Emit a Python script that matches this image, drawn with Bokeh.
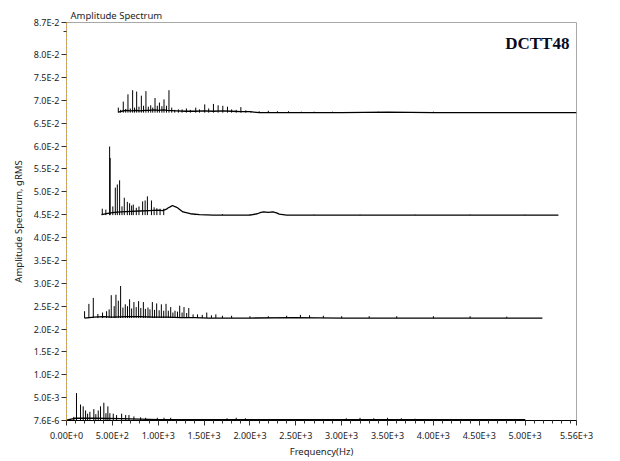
from bokeh.plotting import figure
from bokeh.models import FixedTicker, Range1d, Label, ColumnDataSource, BoxAnnotation
from bokeh.embed import file_html
from bokeh.resources import INLINE

# ---------------- data ----------------
# Series 1 (top trace)
s1_base_f = [565, 600, 650, 700, 760, 800, 860, 900, 960, 1000, 1060, 1100, 1200, 1300, 1400, 1500, 1600, 1700,
             1800, 1900, 2000, 2100, 2400, 3000, 3500, 4000, 4500, 5000, 5560]
s1_base_a = [0.0674, 0.0676, 0.0678, 0.0677, 0.0678, 0.0677, 0.0678, 0.0678, 0.0679, 0.0678, 0.0679, 0.0678,
             0.0677, 0.0676, 0.0676, 0.0677, 0.0676, 0.0677, 0.0676, 0.0675, 0.0675, 0.0673, 0.0673, 0.0673,
             0.0674, 0.0673, 0.0673, 0.0673, 0.0673]
s1_peak_f = [565, 590, 619, 645, 670, 695, 721, 742, 765, 790, 816, 840, 866, 892, 918, 940, 965, 990, 1013,
             1040, 1063, 1090, 1117, 1147, 1180, 1220, 1260, 1307, 1350, 1409, 1450, 1507, 1550, 1602, 1653,
             1704, 1755, 1800, 1850, 1901, 1955, 2010, 2100, 2200, 2300, 2420, 2560, 2700, 2900, 3100, 3400,
             3700, 4000, 4300, 4600, 4900, 5200]
s1_peak_a = [0.0684, 0.0679, 0.0697, 0.0681, 0.0713, 0.0682, 0.0722, 0.0684, 0.0719, 0.0686, 0.0710, 0.0688,
             0.0720, 0.0686, 0.0689, 0.0684, 0.0705, 0.0688, 0.0695, 0.0687, 0.0702, 0.0688, 0.0722, 0.0684,
             0.0679, 0.0680, 0.0680, 0.0682, 0.0679, 0.0684, 0.0680, 0.0691, 0.0682, 0.0692, 0.0689, 0.0688,
             0.0686, 0.0680, 0.0679, 0.0685, 0.0678, 0.0676, 0.0676, 0.0677, 0.0676, 0.0676, 0.0675, 0.0675,
             0.0675, 0.0674, 0.0675, 0.0674, 0.0675, 0.0674, 0.0674, 0.0674, 0.0674]

# Series 2
s2_base_f = [382, 450, 520, 600, 700, 800, 900, 1000, 1050, 1090, 1110, 1130, 1155, 1175, 1190, 1210, 1230,
             1270, 1350, 1450, 1600, 1800, 2000, 2080, 2120, 2150, 2200, 2250, 2290, 2320, 2400, 3000, 3500,
             4000, 4500, 5000, 5363]
s2_base_a = [0.0450, 0.0453, 0.0455, 0.0456, 0.0457, 0.0458, 0.0459, 0.0460, 0.0459, 0.0462, 0.0465, 0.0467,
             0.0470, 0.0468, 0.0467, 0.0465, 0.0462, 0.0456, 0.0452, 0.0450, 0.0449, 0.0449, 0.0449, 0.0452,
             0.0455, 0.0456, 0.0455, 0.0456, 0.0454, 0.0451, 0.0449, 0.0449, 0.0449, 0.0449, 0.0449, 0.0449,
             0.0449]
s2_peak_f = [390, 429, 470, 476, 505, 532, 554, 579, 605, 630, 663, 688, 710, 728, 761, 790, 830, 857, 882, 926,
             955, 985, 1020, 1060, 1400, 1700, 2000, 2700, 3200, 3800, 4400, 5000]
s2_peak_a = [0.0463, 0.0461, 0.0599, 0.0574, 0.0468, 0.0509, 0.0516, 0.0525, 0.0468, 0.0487, 0.0478, 0.0475,
             0.0470, 0.0472, 0.0465, 0.0468, 0.0479, 0.0481, 0.0490, 0.0481, 0.0466, 0.0464, 0.0463, 0.0463,
             0.0451, 0.0451, 0.0451, 0.0450, 0.0450, 0.0450, 0.0450, 0.0450]

# Series 3
s3_base_f = [197, 300, 400, 500, 650, 800, 950, 1100, 1250, 1400, 1550, 1700, 2000, 2500, 3000, 3500, 4000,
             4500, 5188]
s3_base_a = [0.0224, 0.0226, 0.0227, 0.0226, 0.0227, 0.0227, 0.0226, 0.0226, 0.0225, 0.0225, 0.0224, 0.0224,
             0.0224, 0.0225, 0.0224, 0.0224, 0.0224, 0.0224, 0.0224]
s3_peak_f = [197, 244, 292, 342, 393, 437, 465, 488, 520, 539, 565, 590, 615, 641, 665, 688, 710, 735, 760,
             786, 810, 838, 860, 888, 910, 936, 960, 983, 1010, 1034, 1060, 1085, 1110, 1136, 1160, 1183, 1210,
             1234, 1260, 1281, 1310, 1333, 1380, 1428, 1480, 1529, 1580, 1628, 1700, 1800, 2000, 2200, 2400,
             2550, 2650, 2800, 3000, 3300, 3600, 4000, 4400, 4800]
s3_peak_a = [0.0239, 0.0255, 0.0268, 0.0233, 0.0236, 0.0239, 0.0243, 0.0274, 0.0250, 0.0275, 0.0262, 0.0294,
             0.0247, 0.0254, 0.0250, 0.0265, 0.0245, 0.0259, 0.0248, 0.0261, 0.0246, 0.0259, 0.0244, 0.0247,
             0.0243, 0.0259, 0.0242, 0.0256, 0.0241, 0.0254, 0.0240, 0.0255, 0.0240, 0.0248, 0.0236, 0.0240,
             0.0238, 0.0251, 0.0236, 0.0248, 0.0235, 0.0246, 0.0232, 0.0232, 0.0231, 0.0236, 0.0230, 0.0232,
             0.0229, 0.0229, 0.0228, 0.0228, 0.0229, 0.0231, 0.0230, 0.0229, 0.0228, 0.0228, 0.0228, 0.0228,
             0.0228, 0.0227]

# Series 4 (bottom trace)
s4_base_f = [0, 50, 100, 300, 600, 1000, 1500, 2000, 3000, 4000, 5002]
s4_base_a = [0.0001, 0.0003, 0.0005, 0.0005, 0.0004, 0.0002, 0.0002, 0.0002, 0.0002, 0.0002, 0.0002]
s4_peak_f = [44, 80, 109, 153, 182, 208, 230, 255, 298, 320, 346, 371, 407, 430, 451, 473, 510, 546, 601,
             645, 681, 735, 808, 863, 990, 1063, 1136, 1750, 1850, 1950, 3050, 3200, 3350, 3500, 3650, 3800]
s4_peak_a = [0.0003, 0.0008, 0.0060, 0.0035, 0.0031, 0.0022, 0.0015, 0.0019, 0.0025, 0.0014, 0.0022, 0.0031,
             0.0039, 0.0016, 0.0031, 0.0016, 0.0015, 0.0012, 0.0015, 0.0012, 0.0012, 0.0009, 0.0007, 0.0006,
             0.0006, 0.0006, 0.0006, 0.0005, 0.0006, 0.0005, 0.0005, 0.0006, 0.0005, 0.0006, 0.0005, 0.0004]

x_ticks = [0, 500, 1000, 1500, 2000, 2500, 3000, 3500, 4000, 4500, 5000, 5560]
x_labels = ["0.00E+0", "5.00E+2", "1.00E+3", "1.50E+3", "2.00E+3", "2.50E+3", "3.00E+3", "3.50E+3",
            "4.00E+3", "4.50E+3", "5.00E+3", "5.56E+3"]
x_minor = [100, 200, 300, 400, 600, 700, 800, 900, 1100, 1200, 1300, 1400, 1600, 1700, 1800, 1900, 2100,
           2200, 2300, 2400, 2600, 2700, 2800, 2900, 3100, 3200, 3300, 3400, 3600, 3700, 3800, 3900, 4100,
           4200, 4300, 4400, 4600, 4700, 4800, 4900, 5100, 5200, 5300, 5400, 5500]
y_ticks = [7.6e-6, 0.005, 0.01, 0.015, 0.02, 0.025, 0.03, 0.035, 0.04, 0.045, 0.05, 0.055, 0.06, 0.065,
           0.07, 0.075, 0.08, 0.087]
y_labels = ["7.6E-6", "5.0E-3", "1.0E-2", "1.5E-2", "2.0E-2", "2.5E-2", "3.0E-2", "3.5E-2", "4.0E-2",
            "4.5E-2", "5.0E-2", "5.5E-2", "6.0E-2", "6.5E-2", "7.0E-2", "7.5E-2", "8.0E-2", "8.7E-2"]
y_minor = [0.085]

# ---------------- figure ----------------
FONT = "Noto Sans"
TXT = "#1c1c24"

p = figure(width=620, height=461, output_backend="svg", toolbar_location=None,
           x_range=Range1d(0, 5560), y_range=Range1d(7.6e-6, 0.087),
           min_border_left=66, min_border_right=44, min_border_top=22, min_border_bottom=41,
           background_fill_color="white", border_fill_color="white")
p.grid.visible = False
p.outline_line_color = "#a8a8a8"

p.title.text = "Amplitude Spectrum"
p.title.align = "left"
p.title.offset = 4
p.title.standoff = 2
p.title.text_font = FONT
p.title.text_font_size = "9.5px"
p.title.text_font_style = "normal"
p.title.text_color = TXT

traces = [
    (s1_base_f, s1_base_a, s1_peak_f, s1_peak_a),
    (s2_base_f, s2_base_a, s2_peak_f, s2_peak_a),
    (s3_base_f, s3_base_a, s3_peak_f, s3_peak_a),
    (s4_base_f, s4_base_a, s4_peak_f, s4_peak_a),
]
for bf, ba, pf, pa in traces:
    floor = min(ba)
    src = ColumnDataSource(dict(x=pf, y1=pa, y0=[floor] * len(pf)))
    p.segment(x0="x", y0="y0", x1="x", y1="y1", source=src, line_color="black", line_width=1)
    p.line(bf, ba, line_color="black", line_width=1.3)

# axes
xa = p.xaxis[0]
xa.ticker = FixedTicker(ticks=x_ticks, minor_ticks=x_minor)
xa.major_label_overrides = dict(zip(x_ticks, x_labels))
xa.axis_label = "Frequency(Hz)"
ya = p.yaxis[0]
ya.ticker = FixedTicker(ticks=y_ticks, minor_ticks=y_minor)
ya.major_label_overrides = dict(zip(y_ticks, y_labels))
ya.axis_label = "Amplitude Spectrum, gRMS"

for ax in (xa, ya):
    ax.major_label_text_font = FONT
    ax.major_label_text_font_size = "9px"
    ax.major_label_text_color = TXT
    ax.axis_label_text_font = FONT
    ax.axis_label_text_font_size = "9.5px"
    ax.axis_label_text_font_style = "normal"
    ax.axis_label_text_color = TXT
    ax.major_tick_in = 0
    ax.minor_tick_in = 0
    ax.major_tick_line_color = "#333333"
    ax.minor_tick_line_color = "#333333"

xa.major_tick_out = 5
xa.minor_tick_out = 3
xa.major_label_standoff = 3
xa.axis_label_standoff = 0
xa.axis_line_color = "black"

ya.major_tick_out = 5
ya.minor_tick_out = 3
ya.major_label_standoff = 2
ya.axis_label_standoff = 6
ya.axis_line_color = "#e8a22a"
ya.axis_line_dash = "2 2"

p.add_layout(Label(x=5483, y=0.0824, text="DCTT48", text_align="right", text_baseline="alphabetic",
                   text_font="Liberation Serif", text_font_size="17px", text_font_style="bold",
                   text_color="#0a0a1e"))

# underline of the axis name (LabVIEW style)
p.add_layout(BoxAnnotation(left=292, right=359, top=453, bottom=454,
                           left_units="canvas", right_units="canvas", top_units="canvas", bottom_units="canvas",
                           fill_color="#555555", fill_alpha=1, line_color=None))

open("out.html", "w").write(file_html(p, INLINE))
